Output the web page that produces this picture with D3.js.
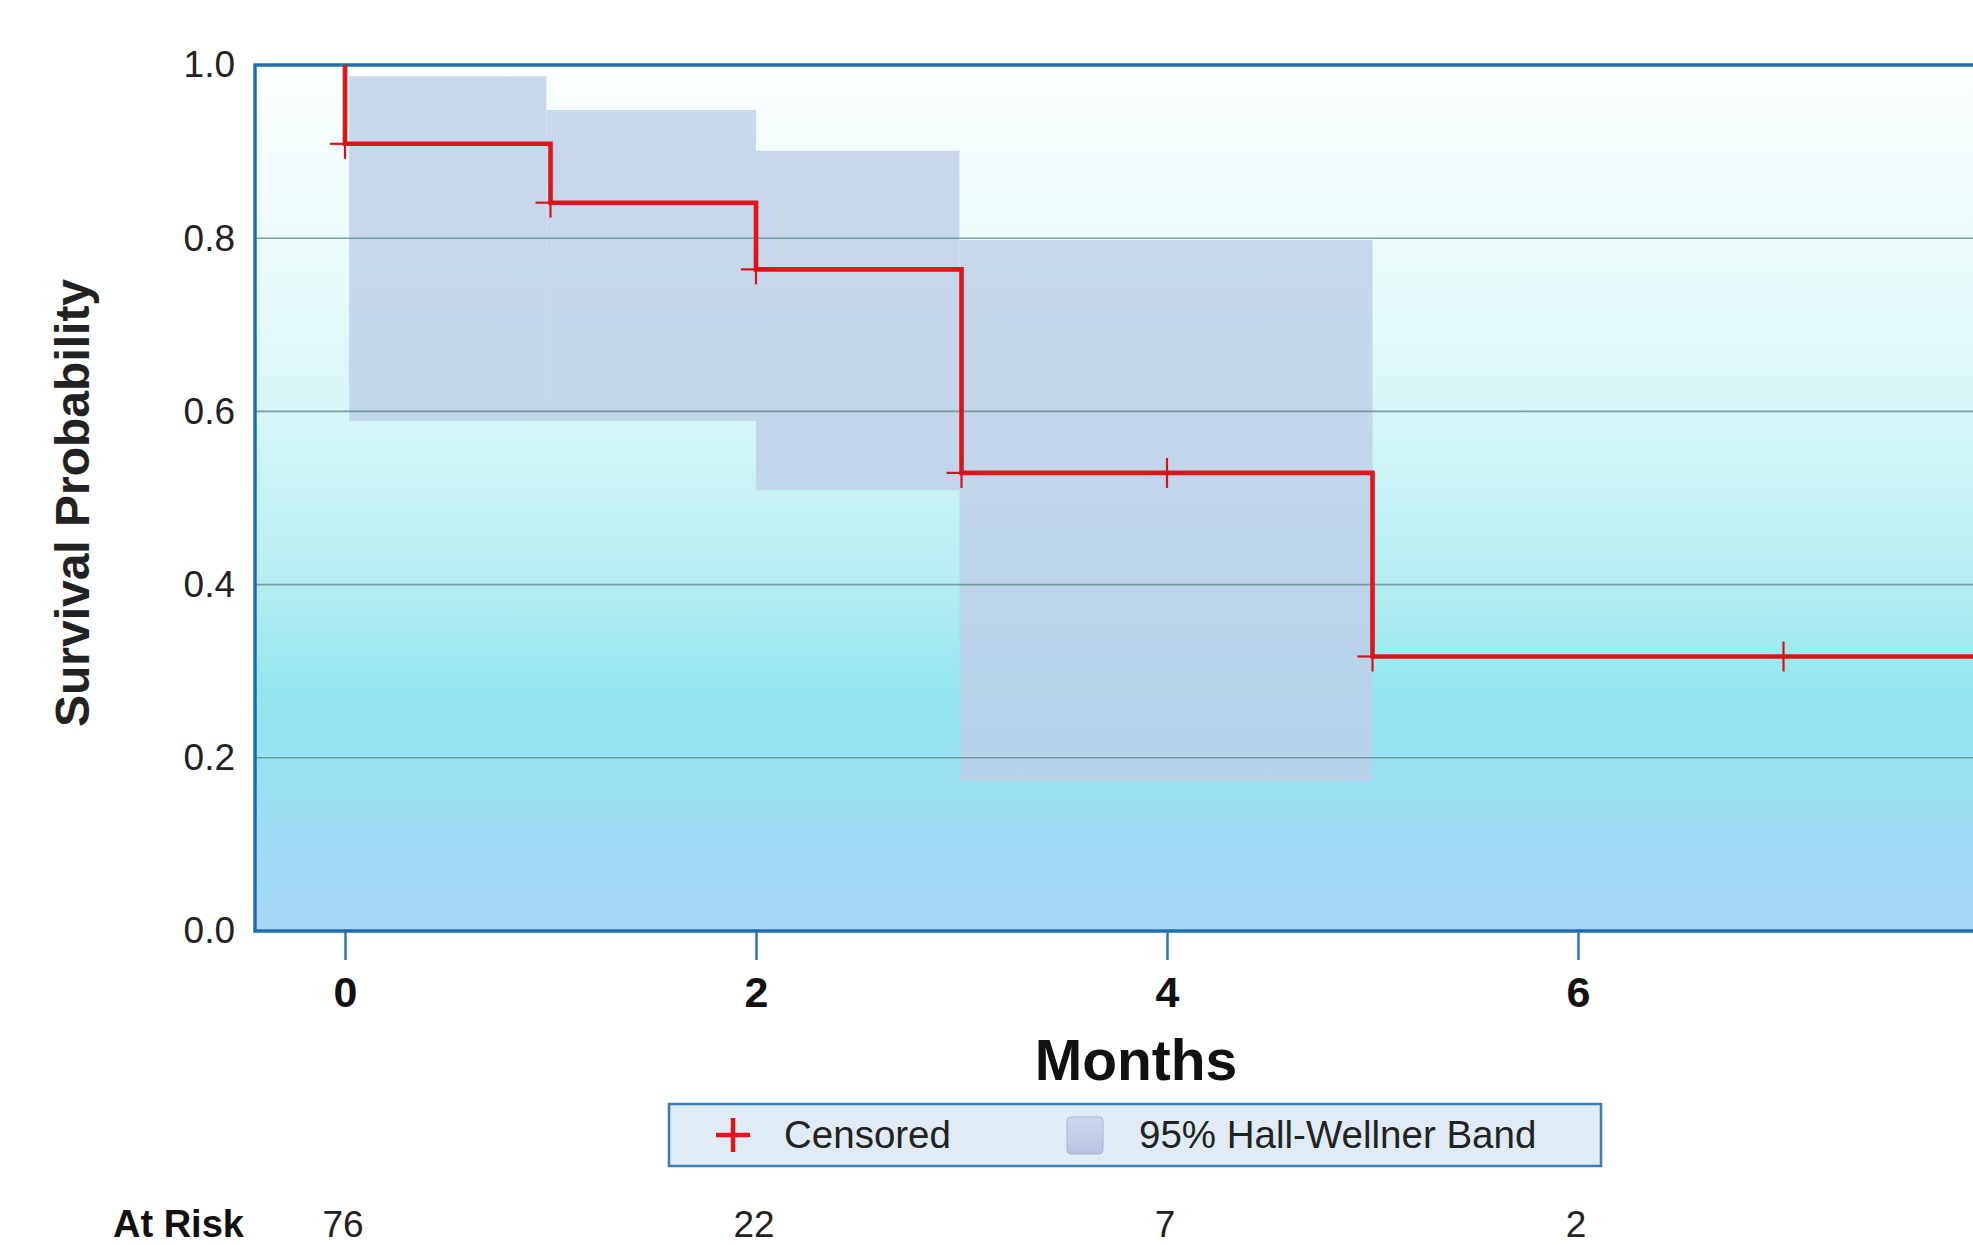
<!DOCTYPE html>
<html><head><meta charset="utf-8">
<script src="https://cdn.jsdelivr.net/npm/d3@7"></script>
<style>html,body{margin:0;padding:0;background:#fff;overflow:hidden}</style>
</head><body>
<script>
// ---- data ----
const stepTimes = [0, 0, 1, 2, 3, 5, 8.3];
const stepSurv  = [1.0, 0.909, 0.841, 0.764, 0.529, 0.317, 0.317];
const censorTimes = [0, 1, 2, 3, 4, 5, 7];
const censorSurv  = [0.909, 0.841, 0.764, 0.529, 0.529, 0.317, 0.317];
const bandStart = [0.02, 0.98, 2.0, 2.99];
const bandEnd   = [0.98, 2.0, 2.99, 5.0];
const bandUpper = [0.987, 0.948, 0.901, 0.798];
const bandLower = [0.589, 0.589, 0.509, 0.173];
const xTicks = [0, 2, 4, 6];
const yTicks = [0, 0.2, 0.4, 0.6, 0.8, 1.0];
const atRiskTimes = [0, 2, 4, 6];
const atRiskCounts = [76, 22, 7, 2];

const W = 1973, H = 1245;
const plotL = 255, plotR = 2120, plotT = 65, plotB = 931;
const x = d3.scaleLinear().domain([0, 6]).range([345, 1578]);
const y = d3.scaleLinear().domain([0, 1]).range([plotB, plotT]);

const svg = d3.select("body").append("svg").attr("width", W).attr("height", H)
  .style("font-family", "'Liberation Sans', Arial, sans-serif");

const defs = svg.append("defs");
const g = defs.append("linearGradient").attr("id", "bg").attr("x1", 0).attr("x2", 0).attr("y1", 0).attr("y2", 1);
[[0, "#fbfefe"], [0.2, "#eefcfc"], [0.4, "#d8f6f8"], [0.6, "#b4eef2"], [0.72, "#95e7ef"], [0.8, "#97e3f2"], [0.9, "#a0dcf6"], [1, "#a6d7f9"]]
  .forEach(([o, c]) => g.append("stop").attr("offset", o).attr("stop-color", c));
const lg = defs.append("linearGradient").attr("id", "sw").attr("x1", 0).attr("x2", 0).attr("y1", 0).attr("y2", 1);
[[0, "#cfd8ef"], [1, "#b8c4e0"]].forEach(([o, c]) => lg.append("stop").attr("offset", o).attr("stop-color", c));

// plot background
svg.append("rect").attr("x", plotL).attr("y", plotT).attr("width", plotR - plotL).attr("height", plotB - plotT)
  .attr("fill", "url(#bg)");

// bands
svg.append("g").selectAll("rect").data(bandStart).join("rect")
  .attr("x", (d, i) => x(d)).attr("width", (d, i) => x(bandEnd[i]) - x(d))
  .attr("y", (d, i) => y(bandUpper[i])).attr("height", (d, i) => y(bandLower[i]) - y(bandUpper[i]))
  .attr("fill", "rgb(190,207,232)").attr("fill-opacity", 0.82);

// gridlines
svg.append("g").selectAll("line").data(yTicks.filter(t => t > 0 && t < 1)).join("line")
  .attr("x1", plotL).attr("x2", plotR).attr("y1", d => y(d)).attr("y2", d => y(d))
  .attr("stroke", "#5f8a8c").attr("stroke-width", 1.6).attr("stroke-opacity", 0.8);

// frame
svg.append("rect").attr("x", plotL).attr("y", plotT).attr("width", plotR - plotL).attr("height", plotB - plotT)
  .attr("fill", "none").attr("stroke", "#1f6fae").attr("stroke-width", 3.5);

// x axis ticks
const xAxis = d3.axisBottom(x).tickValues(xTicks).tickSize(28).tickPadding(16).tickFormat(d3.format("d"));
const xa = svg.append("g").attr("transform", `translate(0,${plotB + 1})`).call(xAxis);
xa.select(".domain").remove();
xa.selectAll(".tick line").attr("stroke", "#2a78b4").attr("stroke-width", 2.5);
xa.selectAll(".tick text").attr("fill", "#111").attr("font-size", 43).attr("font-weight", "bold")
  .attr("font-family", "'Liberation Sans', Arial, sans-serif");

// y axis labels
const yAxis = d3.axisLeft(y).tickValues(yTicks).tickSize(0).tickPadding(20).tickFormat(d3.format(".1f"));
const ya = svg.append("g").attr("transform", `translate(${plotL},0)`).call(yAxis);
ya.select(".domain").remove();
ya.selectAll(".tick text").attr("fill", "#222").attr("font-size", 37)
  .attr("font-family", "'Liberation Sans', Arial, sans-serif");

// step curve
const pts = stepTimes.map((t, i) => [t, stepSurv[i]]);
svg.append("path").datum(pts)
  .attr("d", d3.line().x(d => x(d[0])).y(d => y(d[1])).curve(d3.curveStepAfter))
  .attr("fill", "none").attr("stroke", "#e5141b").attr("stroke-width", 4.6);

// censor marks
const cm = svg.append("g").attr("stroke", "#d9121a").attr("stroke-width", 2.2);
censorTimes.forEach((t, i) => {
  const cx = x(t), cy = y(censorSurv[i]);
  cm.append("line").attr("x1", cx - 15).attr("x2", cx + 15).attr("y1", cy).attr("y2", cy);
  cm.append("line").attr("x1", cx).attr("x2", cx).attr("y1", cy - 15).attr("y2", cy + 15);
});

// axis titles
svg.append("text").attr("x", 1136).attr("y", 1080).attr("text-anchor", "middle")
  .attr("font-size", 57).attr("font-weight", "bold").attr("fill", "#111").text("Months");
svg.append("text").attr("transform", "translate(89,503) rotate(-90)").attr("text-anchor", "middle")
  .attr("font-size", 48).attr("font-weight", "bold").attr("fill", "#222").text("Survival Probability");

// legend
const leg = svg.append("g");
leg.append("rect").attr("x", 669).attr("y", 1104).attr("width", 932).attr("height", 62)
  .attr("fill", "#e0ebf6").attr("stroke", "#3a7db5").attr("stroke-width", 2.5);
leg.append("line").attr("x1", 716).attr("x2", 750).attr("y1", 1135).attr("y2", 1135).attr("stroke", "#e5141b").attr("stroke-width", 4.5);
leg.append("line").attr("x1", 733).attr("x2", 733).attr("y1", 1118).attr("y2", 1152).attr("stroke", "#e5141b").attr("stroke-width", 4.5);
leg.append("text").attr("x", 784).attr("y", 1148).attr("font-size", 38.5).attr("fill", "#222").text("Censored");
leg.append("rect").attr("x", 1067).attr("y", 1117).attr("width", 36).attr("height", 37).attr("rx", 4)
  .attr("fill", "url(#sw)").attr("stroke", "#a9b5d0").attr("stroke-width", 1);
leg.append("text").attr("x", 1139).attr("y", 1148).attr("font-size", 38.5).attr("fill", "#222").text("95% Hall-Wellner Band");

// at risk row
svg.append("text").attr("x", 113).attr("y", 1237).attr("font-size", 38).attr("font-weight", "bold").attr("fill", "#111").text("At Risk");
svg.append("g").selectAll("text").data(atRiskTimes).join("text")
  .attr("x", d => x(d) - 2).attr("y", 1237).attr("text-anchor", "middle").attr("font-size", 37).attr("fill", "#222")
  .text((d, i) => atRiskCounts[i]);
</script>
</body></html>
